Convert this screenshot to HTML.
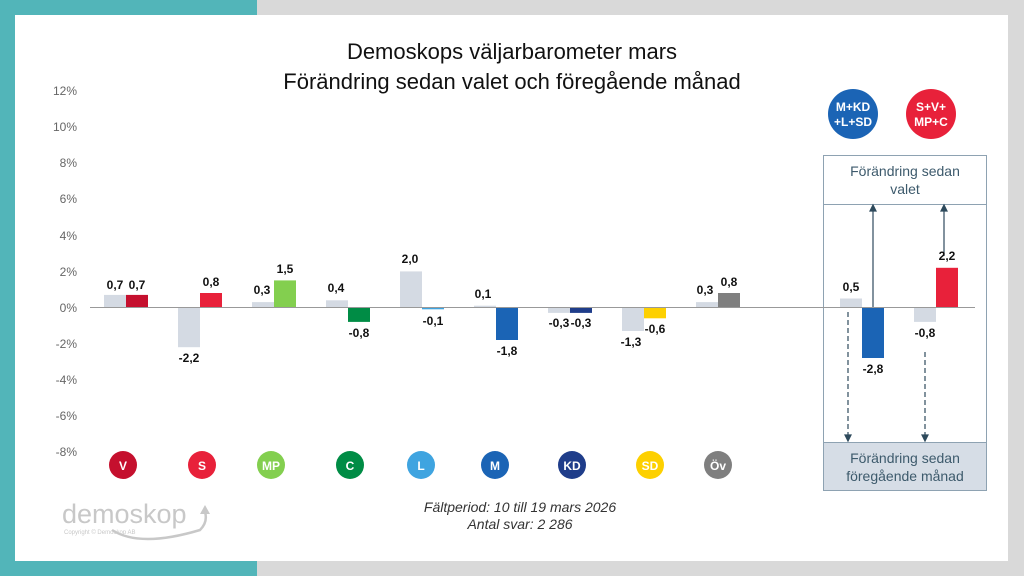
<!DOCTYPE html>
<html><head><meta charset="utf-8"><style>
body{margin:0;width:1024px;height:576px;overflow:hidden;background:#d9d9d9}
svg{display:block}
text{font-family:"Liberation Sans",sans-serif}
</style></head><body>
<svg width="1024" height="576" viewBox="0 0 1024 576">
<rect x="0" y="0" width="1024" height="576" fill="#d9d9d9"/>
<rect x="0" y="0" width="257" height="576" fill="#52b5b9"/>
<rect x="15" y="15" width="993" height="546" fill="#fff"/>
<text x="512" y="59" font-size="22" text-anchor="middle" fill="#111">Demoskops väljarbarometer mars</text>
<text x="512" y="89" font-size="22" text-anchor="middle" fill="#111">Förändring sedan valet och föregående månad</text>
<g font-size="12" fill="#666" text-anchor="end">
<text x="77" y="95">12%</text><text x="77" y="131">10%</text><text x="77" y="167">8%</text><text x="77" y="203">6%</text><text x="77" y="240">4%</text><text x="77" y="276">2%</text><text x="77" y="312">0%</text><text x="77" y="348">-2%</text><text x="77" y="384">-4%</text><text x="77" y="420">-6%</text><text x="77" y="456">-8%</text>
</g>
<!-- box -->
<rect x="823.5" y="155.5" width="163" height="335" fill="none" stroke="#8ea2b2"/>
<rect x="823.5" y="442.5" width="163" height="48" fill="#d6dde6" stroke="#8ea2b2"/>
<line x1="823.5" y1="204.5" x2="986.5" y2="204.5" stroke="#8ea2b2"/>
<g font-size="14" fill="#3d5a6c" text-anchor="middle">
<text x="905" y="176">Förändring sedan</text><text x="905" y="194">valet</text>
<text x="905" y="463">Förändring sedan</text><text x="905" y="481">föregående månad</text>
</g>
<g stroke="#2e4a5c" stroke-width="1.2" fill="#2e4a5c">
<line x1="873" y1="307" x2="873" y2="210"/><path d="M870,211 L876,211 L873,205Z"/>
<line x1="944" y1="256" x2="944" y2="210"/><path d="M941,211 L947,211 L944,205Z"/>
<line x1="848" y1="312" x2="848" y2="436" stroke-dasharray="5,3"/><path d="M845,435 L851,435 L848,441Z"/>
<line x1="925" y1="352" x2="925" y2="436" stroke-dasharray="5,3"/><path d="M922,435 L928,435 L925,441Z"/>
</g>
<!-- bars: zero 307.5, 18.05px per 1 -->
<g>
<rect x="104" y="294.9" width="22" height="12.6" fill="#d4dae3"/><rect x="126" y="294.9" width="22" height="12.6" fill="#c5102e"/>
<rect x="178" y="307.5" width="22" height="39.7" fill="#d4dae3"/><rect x="200" y="293" width="22" height="14.5" fill="#e8213a"/>
<rect x="252" y="302.1" width="22" height="5.4" fill="#d4dae3"/><rect x="274" y="280.4" width="22" height="27.1" fill="#83cf4f"/>
<rect x="326" y="300.3" width="22" height="7.2" fill="#d4dae3"/><rect x="348" y="307.5" width="22" height="14.4" fill="#008c45"/>
<rect x="400" y="271.4" width="22" height="36.1" fill="#d4dae3"/><rect x="422" y="307.5" width="22" height="1.8" fill="#3fa4e0"/>
<rect x="474" y="305.7" width="22" height="1.8" fill="#d4dae3"/><rect x="496" y="307.5" width="22" height="32.5" fill="#1b64b5"/>
<rect x="548" y="307.5" width="22" height="5.4" fill="#d4dae3"/><rect x="570" y="307.5" width="22" height="5.4" fill="#1f3d8a"/>
<rect x="622" y="307.5" width="22" height="23.5" fill="#d4dae3"/><rect x="644" y="307.5" width="22" height="10.8" fill="#fdd000"/>
<rect x="696" y="302.1" width="22" height="5.4" fill="#d4dae3"/><rect x="718" y="293" width="22" height="14.5" fill="#7f7f7f"/>
<rect x="840" y="298.5" width="22" height="9" fill="#d4dae3"/><rect x="862" y="307.5" width="22" height="50.5" fill="#1b64b5"/>
<rect x="914" y="307.5" width="22" height="14.4" fill="#d4dae3"/><rect x="936" y="267.8" width="22" height="39.7" fill="#e8213a"/>
</g>
<line x1="90" y1="307.5" x2="975" y2="307.5" stroke="#999" stroke-width="1"/>
<g font-size="12" font-weight="bold" fill="#111" text-anchor="middle">
<text x="115" y="289">0,7</text><text x="137" y="289">0,7</text>
<text x="189" y="362">-2,2</text><text x="211" y="286">0,8</text>
<text x="262" y="294">0,3</text><text x="285" y="273">1,5</text>
<text x="336" y="292">0,4</text><text x="359" y="337">-0,8</text>
<text x="410" y="263">2,0</text><text x="433" y="325">-0,1</text>
<text x="483" y="298">0,1</text><text x="507" y="355">-1,8</text>
<text x="559" y="327">-0,3</text><text x="581" y="327">-0,3</text>
<text x="631" y="346">-1,3</text><text x="655" y="333">-0,6</text>
<text x="705" y="294">0,3</text><text x="729" y="286">0,8</text>
<text x="851" y="291">0,5</text><text x="873" y="373">-2,8</text>
<text x="925" y="337">-0,8</text><text x="947" y="260">2,2</text>
</g>
<g font-size="12" font-weight="bold" fill="#fff" text-anchor="middle">
<circle cx="123" cy="465" r="14" fill="#c5102e"/><text x="123" y="470">V</text>
<circle cx="202" cy="465" r="14" fill="#e8213a"/><text x="202" y="470">S</text>
<circle cx="271" cy="465" r="14" fill="#83cf4f"/><text x="271" y="470">MP</text>
<circle cx="350" cy="465" r="14" fill="#008c45"/><text x="350" y="470">C</text>
<circle cx="421" cy="465" r="14" fill="#3fa4e0"/><text x="421" y="470">L</text>
<circle cx="495" cy="465" r="14" fill="#1b64b5"/><text x="495" y="470">M</text>
<circle cx="572" cy="465" r="14" fill="#1f3d8a"/><text x="572" y="470">KD</text>
<circle cx="650" cy="465" r="14" fill="#fdd000"/><text x="650" y="470">SD</text>
<circle cx="718" cy="465" r="14" fill="#7f7f7f"/><text x="718" y="470">Öv</text>
<circle cx="853" cy="114" r="25" fill="#1b64b5"/><text x="853" y="111">M+KD</text><text x="853" y="126">+L+SD</text>
<circle cx="931" cy="114" r="25" fill="#e8213a"/><text x="931" y="111">S+V+</text><text x="931" y="126">MP+C</text>
</g>
<g font-size="14" font-style="italic" fill="#333" text-anchor="middle">
<text x="520" y="512">Fältperiod: 10 till 19 mars 2026</text>
<text x="520" y="529">Antal svar: 2 286</text>
</g>
<text x="62" y="523" font-size="27" fill="#c8c8c8">demoskop</text>
<text x="64" y="534" font-size="6" fill="#c8c8c8">Copyright © Demoskop AB</text>
<path d="M112,530 Q140,548 200,530 Q208,522 205,512" fill="none" stroke="#c8c8c8" stroke-width="2.5"/>
<path d="M200,514 L205,505 L210,514Z" fill="#c8c8c8"/>
</svg>
</body></html>
